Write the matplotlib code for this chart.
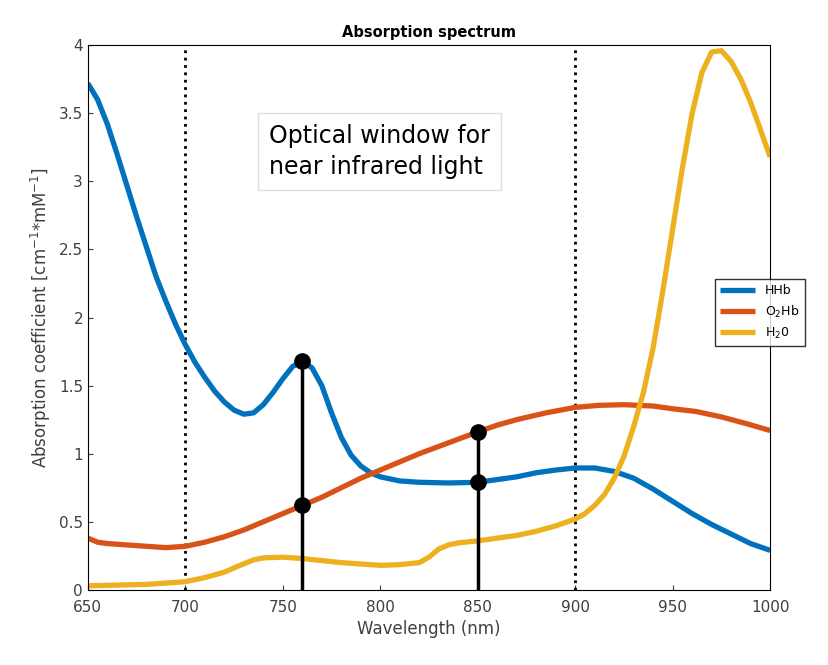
import matplotlib
matplotlib.use('Agg')
import matplotlib.pyplot as plt
import numpy as np

# values
hhb_wl = [650, 655, 660, 665, 670, 675, 680, 685, 690, 695, 700, 705, 710, 715, 720, 725,
          730, 735, 740, 745, 750, 755, 760, 765, 770, 775, 780, 785, 790, 795, 800, 810,
          820, 835, 850, 860, 870, 880, 890, 900, 910, 920, 930, 940, 950, 960, 970, 980,
          990, 1000]
hhb = [3.72, 3.6, 3.42, 3.2, 2.97, 2.74, 2.52, 2.3, 2.12, 1.95, 1.8, 1.67, 1.56, 1.46,
       1.38, 1.32, 1.29, 1.3, 1.36, 1.45, 1.55, 1.64, 1.68, 1.63, 1.5, 1.3, 1.12, 0.99,
       0.91, 0.86, 0.83, 0.8, 0.79, 0.785, 0.79, 0.81, 0.83, 0.86, 0.88, 0.895, 0.895,
       0.87, 0.82, 0.74, 0.65, 0.56, 0.48, 0.41, 0.34, 0.29]
o2hb_wl = [650, 655, 660, 670, 680, 690, 700, 710, 720, 730, 740, 750, 760, 770, 780, 790,
           800, 810, 820, 835, 850, 860, 870, 885, 900, 912, 925, 940, 950, 962, 975, 988,
           1000]
o2hb = [0.38, 0.35, 0.34, 0.33, 0.32, 0.31, 0.32, 0.35, 0.39, 0.44, 0.5, 0.56, 0.62,
        0.68, 0.75, 0.82, 0.88, 0.94, 1.0, 1.08, 1.16, 1.21, 1.25, 1.3, 1.34, 1.355, 1.36,
        1.35, 1.33, 1.31, 1.27, 1.22, 1.17]
h2o_wl = [650, 665, 680, 690, 700, 710, 720, 728, 735, 740, 750, 760, 770, 780, 790, 800,
          810, 820, 825, 830, 835, 840, 850, 860, 870, 880, 890, 900, 905, 910, 915, 920,
          925, 930, 935, 940, 945, 950, 955, 960, 965, 970, 975, 980, 985, 990, 995, 1000]
h2o = [0.03, 0.035, 0.04, 0.05, 0.06, 0.09, 0.13, 0.18, 0.22, 0.235, 0.24, 0.23, 0.215,
       0.2, 0.19, 0.18, 0.185, 0.2, 0.24, 0.3, 0.33, 0.345, 0.36, 0.38, 0.4, 0.43, 0.47,
       0.52, 0.56, 0.62, 0.7, 0.82, 0.98, 1.2, 1.45, 1.78, 2.2, 2.65, 3.1, 3.5, 3.8, 3.95,
       3.96, 3.88, 3.75, 3.58, 3.38, 3.18]
stem_wl = [760, 850]

fig = plt.figure(figsize=(8.29, 6.65), dpi=100)
ax = fig.add_axes([0.106, 0.113, 0.823, 0.819])

ax.axvline(700, color='black', linestyle=':', linewidth=2)
ax.axvline(900, color='black', linestyle=':', linewidth=2)

kw = dict(linewidth=3.8, solid_joinstyle='round', solid_capstyle='butt')
ax.plot(hhb_wl, hhb, color='#0072BD', label='HHb', **kw)
ax.plot(o2hb_wl, o2hb, color='#D95319', label='O$_2$Hb', **kw)
ax.plot(h2o_wl, h2o, color='#EDB120', label='H$_2$0', **kw)

for w in stem_wl:
    top = np.interp(w, hhb_wl, hhb)
    low = np.interp(w, o2hb_wl, o2hb)
    hi = max(top, low)
    ax.plot([w, w], [0, hi], color='black', linewidth=2.5, zorder=5)
    ax.plot([w, w], [top, low], 'o', color='black', markersize=11, zorder=6)

ax.set_xlim(650, 1000)
ax.set_ylim(0, 4)
ax.set_xticks(range(650, 1001, 50))
ax.set_yticks(np.arange(0, 4.01, 0.5))
ax.set_yticklabels(['0', '0.5', '1', '1.5', '2', '2.5', '3', '3.5', '4'])
ax.tick_params(direction='in', labelsize=11, colors='#404040')
ax.tick_params(axis='x', pad=7)
ax.set_xlabel('Wavelength (nm)', fontsize=12, color='#404040')
ax.set_ylabel('Absorption coefficient [cm$^{-1}$*mM$^{-1}$]', fontsize=12, color='#404040')
ax.set_title('Absorption spectrum', fontsize=10.5, fontweight='bold')

ax.text(0.265, 0.805, 'Optical window for\nnear infrared light', transform=ax.transAxes,
        fontsize=17, va='center', linespacing=1.4,
        bbox=dict(facecolor='white', edgecolor='#dddddd', pad=8))

fig.legend(loc='center left', bbox_to_anchor=(0.855, 0.53), fontsize=9,
           frameon=True, fancybox=False, edgecolor='black', handlelength=2.8)

fig.savefig('out.png', dpi=100)
